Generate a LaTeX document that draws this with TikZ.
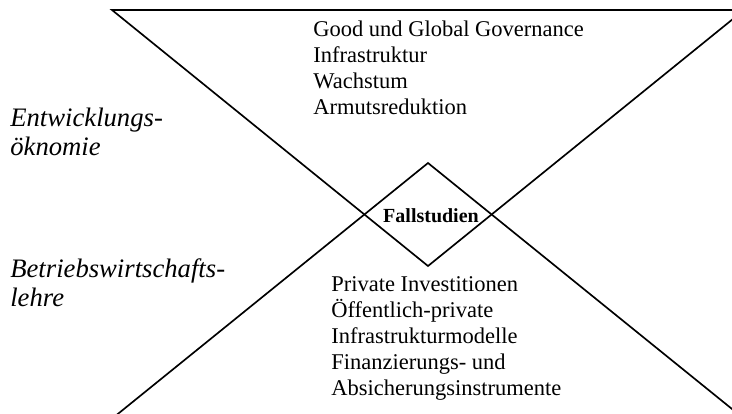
\documentclass[tikz,border=0pt]{standalone}
\usepackage{fontspec}
\setmainfont{Liberation Serif}
\usetikzlibrary{positioning}

\begin{document}
\begin{tikzpicture}[x=0.6pt, y=-0.6pt,
    tri/.style={draw=black, line width=1pt, line join=miter},
    field/.style={font=\fontsize{16}{17.1}\selectfont\itshape, align=left,
                  anchor=base west, inner sep=0pt},
    topics/.style={font=\fontsize{13.5}{15.5}\selectfont, align=left,
                   anchor=base west, inner sep=0pt},
    cases/.style={font=\fontsize{12}{14}\selectfont\bfseries, inner sep=1pt}
]
\path[use as bounding box, clip] (0,0) rectangle (732,413);

% upper triangle (economics of development)
\coordinate (utl) at (112,10);
\coordinate (utr) at (744,10);
\coordinate (utb) at (428,266);
% lower triangle (business studies)
\coordinate (ltt) at (428,163);
\coordinate (ltl) at (98,430);
\coordinate (ltr) at (758,430);

\draw[tri] (utl) -- (utr) -- (utb) -- cycle;
\draw[tri] (ltt) -- (ltl) -- (ltr) -- cycle;

\node[cases] (fall) at (431,216) {Fallstudien};

% anchor = baseline of the last line
\node[topics] (vwl) at (313,114) {Good und Global Governance\\ Infrastruktur\\ Wachstum\\ Armutsreduktion};
\node[topics] (bwl) at (331,395) {Private Investitionen\\ Öffentlich-private\\ Infrastrukturmodelle\\ Finanzierungs- und\\ Absicherungsinstrumente};

\node[field] (entw) at (10,155) {Entwicklungs-\\ öknomie};
\node[field] (betr) at (10,306) {Betriebswirtschafts-\\ lehre};
\end{tikzpicture}
\end{document}
